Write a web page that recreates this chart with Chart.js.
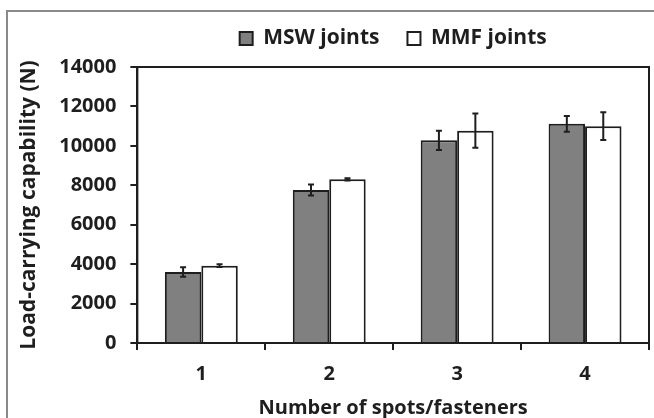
<!DOCTYPE html>
<html>
<head>
<meta charset="utf-8">
<script src="https://cdn.jsdelivr.net/npm/chart.js@4.4.1/dist/chart.umd.min.js"></script>
<style>
    html, body { margin: 0; padding: 0; background: #fff; }
    #wrap { position: relative; width: 654px; height: 418px; }
    #frame {
        position: absolute; left: 6px; top: 10px; right: 0; bottom: 0;
        border-top: 2px solid #8a8a8a; border-left: 2px solid #8a8a8a;
        pointer-events: none;
    }
    canvas { position: absolute; left: 0; top: 0; }
</style>
</head>
<body>
<div id="wrap">
    <canvas id="chart" width="654" height="418"></canvas>
    <div id="frame"></div>
</div>
<script>
// data
const categories = ['1', '2', '3', '4'];
const mswValues = [3600, 7760, 10280, 11120];
const mswErrors = [240, 280, 490, 400];
const mmfValues = [3920, 8300, 10770, 11000];
const mmfErrors = [70, 60, 870, 700];
const yTicks = [0, 2000, 4000, 6000, 8000, 10000, 12000, 14000];

const FONT = '"Open Sans", "Liberation Sans", sans-serif';
const INK = '#1e1e1e';

// error bars, drawn with the chart's own y scale
const errorBars = {
    id: 'errorBars',
    afterDatasetsDraw(chart) {
        const ctx = chart.ctx;
        const y = chart.scales.y;
        const errs = [mswErrors, mmfErrors];
        ctx.save();
        ctx.strokeStyle = INK;
        ctx.lineWidth = 2;
        chart.data.datasets.forEach((ds, i) => {
            const meta = chart.getDatasetMeta(i);
            meta.data.forEach((bar, j) => {
                const v = ds.data[j];
                const top = y.getPixelForValue(v + errs[i][j]);
                const bot = y.getPixelForValue(v - errs[i][j]);
                const x = bar.x;
                ctx.beginPath();
                ctx.moveTo(x, top); ctx.lineTo(x, bot);
                ctx.moveTo(x - 3, top); ctx.lineTo(x + 3, top);
                ctx.moveTo(x - 3, bot); ctx.lineTo(x + 3, bot);
                ctx.stroke();
            });
        });
        ctx.restore();
    }
};

// box around the plot area, legend centred over the plot and lifted a bit
const plotBox = {
    id: 'plotBox',
    beforeDraw(chart) {
        if (chart.legend) {
            chart.legend.left = chart.chartArea.left;
            chart.legend.right = chart.chartArea.right;
            chart.legend.top = 0;
        }
    },
    afterDraw(chart) {
        const a = chart.chartArea;
        const ctx = chart.ctx;
        ctx.save();
        ctx.strokeStyle = INK;
        ctx.lineWidth = 2;
        ctx.strokeRect(a.left, a.top, a.right - a.left, a.bottom - a.top);
        ctx.restore();
    }
};

new Chart(document.getElementById('chart').getContext('2d'), {
    type: 'bar',
    data: {
        labels: categories,
        datasets: [
            {
                label: 'MSW joints',
                data: mswValues,
                backgroundColor: '#808080',
                borderColor: INK,
                borderWidth: 2,
                borderSkipped: 'bottom'
            },
            {
                label: 'MMF joints',
                data: mmfValues,
                backgroundColor: '#ffffff',
                borderColor: INK,
                borderWidth: 2,
                borderSkipped: 'bottom'
            }
        ]
    },
    options: {
        responsive: false,
        animation: false,
        devicePixelRatio: 1,
        layout: { padding: { left: 8, right: 5, top: 8, bottom: 0 } },
        datasets: { bar: { categoryPercentage: 0.57, barPercentage: 1.0 } },
        plugins: {
            legend: {
                position: 'top',
                labels: {
                    color: INK,
                    font: { family: FONT, size: 21, weight: 'bold' },
                    boxWidth: 13,
                    boxHeight: 13,
                    padding: 28
                }
            },
            tooltip: { enabled: false }
        },
        scales: {
            x: {
                grid: { display: true, drawOnChartArea: false, drawTicks: true, tickLength: 7, color: INK, lineWidth: 2 },
                border: { display: true, color: INK, width: 2 },
                ticks: { color: INK, font: { family: FONT, size: 20, weight: 'bold' }, padding: 12 },
                title: {
                    display: true,
                    text: 'Number of spots/fasteners',
                    color: INK,
                    font: { family: FONT, size: 20, weight: 'bold', lineHeight: 1.0 },
                    padding: { top: 0, bottom: 0 }
                }
            },
            y: {
                min: 0,
                max: 14000,
                afterBuildTicks(axis) { axis.ticks = yTicks.map(v => ({ value: v })); },
                grid: { display: true, drawOnChartArea: false, drawTicks: true, tickLength: 7, color: INK, lineWidth: 2 },
                border: { display: true, color: INK, width: 2 },
                ticks: {
                    color: INK,
                    font: { family: FONT, size: 20, weight: 'bold' },
                    padding: 14,
                    callback: v => String(v)
                },
                title: {
                    display: true,
                    text: 'Load-carrying capability (N)',
                    color: INK,
                    font: { family: FONT, size: 21, weight: 'bold' },
                    padding: { top: 8, bottom: 4 }
                }
            }
        }
    },
    plugins: [errorBars, plotBox]
});
</script>
</body>
</html>
